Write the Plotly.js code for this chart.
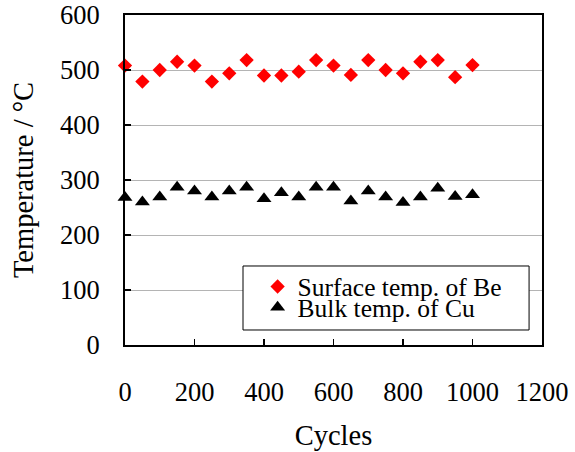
<!DOCTYPE html>
<html><head><meta charset="utf-8">
<script src="https://cdn.plot.ly/plotly-3.0.1.min.js"></script>
<style>html,body{margin:0;padding:0;background:#fff}#chart{width:575px;height:452px}</style>
</head><body><div id="chart"></div>
<script>
const cycles = [0,50,100,150,200,250,300,350,400,450,500,550,600,650,700,750,800,850,900,950,1000];
const surfaceBe = [508,479,500,515,508,479,494,518,490,490,497,518,508,491,518,500,494,515,518,487,509];
const bulkCu = [268,260,269,287,280,269,280,287,266,277,269,287,287,262,280,269,259,269,285,270,273];
const seriesNames = ["Surface temp. of Be","Bulk temp. of Cu"];
const xTitle = "Cycles";
const yTitle = "Temperature / °C";

const fontFam = "Liberation Serif";
const traces = [
  {x: cycles, y: surfaceBe, name: seriesNames[0], mode: "markers", type: "scatter", legend: "legend",
   cliponaxis: false, marker: {symbol: "diamond", size: 11, color: "#ff0000"}},
  {x: cycles, y: bulkCu, name: seriesNames[1], mode: "markers", type: "scatter", legend: "legend2",
   cliponaxis: false, marker: {symbol: "triangle-up", size: 13, color: "#000000"}}
];
const axisCommon = {
  showline: true, mirror: true, linecolor: "#000", linewidth: 2,
  ticks: "inside", ticklen: 6, tickwidth: 1.5, tickcolor: "#000",
  tickfont: {family: fontFam, size: 26.5, color: "#000"},
  zeroline: false, automargin: false
};
const legendCommon = {xanchor: "left", yanchor: "middle", bgcolor: "rgba(0,0,0,0)", borderwidth: 0,
  font: {family: fontFam, size: 25.5, color: "#000"}, itemwidth: 30};
const layout = {
  width: 575, height: 452,
  margin: {l: 125, r: 33, t: 15, b: 107},
  paper_bgcolor: "#fff", plot_bgcolor: "#fff",
  font: {family: fontFam, color: "#000"},
  showlegend: true,
  legend: Object.assign({}, legendCommon, {x: 0.318, y: 0.176}),
  legend2: Object.assign({}, legendCommon, {x: 0.318, y: 0.113}),
  shapes: [{type: "rect", xref: "paper", yref: "paper", x0: 0.283, x1: 0.969, y0: 0.0455, y1: 0.2394,
    line: {color: "#000", width: 1}, fillcolor: "#fff", layer: "above"}],
  xaxis: Object.assign({}, axisCommon, {range: [0, 1200], dtick: 200, tick0: 0,
    showgrid: false, ticklabelstandoff: 22,
    title: {text: xTitle, font: {family: fontFam, size: 28.5, color: "#000"}, standoff: 19}}),
  yaxis: Object.assign({}, axisCommon, {range: [0, 600], dtick: 100, tick0: 0,
    showgrid: true, gridcolor: "#b4b4b4", gridwidth: 1, ticklabelstandoff: 18,
    title: {text: yTitle, font: {family: fontFam, size: 28.5, color: "#000"}, standoff: 18}})
};
Plotly.newPlot("chart", traces, layout, {displayModeBar: false, staticPlot: true});
</script></body></html>
